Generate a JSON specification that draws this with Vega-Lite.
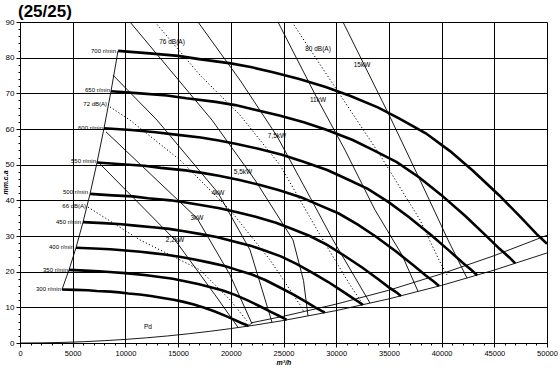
{
"$schema":"https://vega.github.io/schema/vega-lite/v6.json",
"width":527,"height":321,
"autosize":"none",
"padding":{"left":20,"top":22,"right":13,"bottom":25},
"background":"white",
"title":{"text":"(25/25)","anchor":"start","frame":"group","dx":-2,"offset":-3,"fontSize":17,"fontWeight":"bold","font":"Liberation Sans","color":"#000"},
"config":{"view":{"stroke":null},"text":{"font":"Liberation Sans"}},
"datasets":{
"lines":[
{"c":"n700","t":"s","q":9300,"p":81.9},{"c":"n700","t":"s","q":12300,"p":81.2},{"c":"n700","t":"s","q":15000,"p":80.5},{"c":"n700","t":"s","q":17000,"p":79.6},{"c":"n700","t":"s","q":20000,"p":78.4},{"c":"n700","t":"s","q":22000,"p":77.3},{"c":"n700","t":"s","q":24000,"p":75.9},{"c":"n700","t":"s","q":26500,"p":74.0},{"c":"n700","t":"s","q":29000,"p":71.8},{"c":"n700","t":"s","q":31300,"p":69.3},{"c":"n700","t":"s","q":34000,"p":66.0},{"c":"n700","t":"s","q":36000,"p":62.9},{"c":"n700","t":"s","q":38500,"p":58.8},{"c":"n700","t":"s","q":40800,"p":53.8},{"c":"n700","t":"s","q":43000,"p":48.2},{"c":"n700","t":"s","q":45500,"p":41.3},{"c":"n700","t":"s","q":47500,"p":35.3},{"c":"n700","t":"s","q":49000,"p":30.6},{"c":"n700","t":"s","q":50000,"p":27.8},
{"c":"n650","t":"s","q":8636,"p":70.6},{"c":"n650","t":"s","q":11421,"p":70.0},{"c":"n650","t":"s","q":13929,"p":69.4},{"c":"n650","t":"s","q":15786,"p":68.6},{"c":"n650","t":"s","q":18571,"p":67.6},{"c":"n650","t":"s","q":20429,"p":66.7},{"c":"n650","t":"s","q":22286,"p":65.4},{"c":"n650","t":"s","q":24607,"p":63.8},{"c":"n650","t":"s","q":26929,"p":61.9},{"c":"n650","t":"s","q":29064,"p":59.8},{"c":"n650","t":"s","q":31571,"p":56.9},{"c":"n650","t":"s","q":33429,"p":54.2},{"c":"n650","t":"s","q":35750,"p":50.7},{"c":"n650","t":"s","q":37886,"p":46.4},{"c":"n650","t":"s","q":39929,"p":41.6},{"c":"n650","t":"s","q":42250,"p":35.6},{"c":"n650","t":"s","q":44107,"p":30.4},{"c":"n650","t":"s","q":45500,"p":26.4},{"c":"n650","t":"s","q":46429,"p":24.0},{"c":"n650","t":"s","q":46986,"p":22.3},
{"c":"n600","t":"s","q":7971,"p":60.2},{"c":"n600","t":"s","q":10543,"p":59.7},{"c":"n600","t":"s","q":12857,"p":59.1},{"c":"n600","t":"s","q":14571,"p":58.5},{"c":"n600","t":"s","q":17143,"p":57.6},{"c":"n600","t":"s","q":18857,"p":56.8},{"c":"n600","t":"s","q":20571,"p":55.8},{"c":"n600","t":"s","q":22714,"p":54.4},{"c":"n600","t":"s","q":24857,"p":52.8},{"c":"n600","t":"s","q":26829,"p":50.9},{"c":"n600","t":"s","q":29143,"p":48.5},{"c":"n600","t":"s","q":30857,"p":46.2},{"c":"n600","t":"s","q":33000,"p":43.2},{"c":"n600","t":"s","q":34971,"p":39.5},{"c":"n600","t":"s","q":36857,"p":35.4},{"c":"n600","t":"s","q":39000,"p":30.3},{"c":"n600","t":"s","q":40714,"p":25.9},{"c":"n600","t":"s","q":42000,"p":22.5},{"c":"n600","t":"s","q":42857,"p":20.4},{"c":"n600","t":"s","q":43371,"p":19.0},
{"c":"n550","t":"s","q":7307,"p":50.6},{"c":"n550","t":"s","q":9664,"p":50.1},{"c":"n550","t":"s","q":11786,"p":49.7},{"c":"n550","t":"s","q":13357,"p":49.1},{"c":"n550","t":"s","q":15714,"p":48.4},{"c":"n550","t":"s","q":17286,"p":47.7},{"c":"n550","t":"s","q":18857,"p":46.9},{"c":"n550","t":"s","q":20821,"p":45.7},{"c":"n550","t":"s","q":22786,"p":44.3},{"c":"n550","t":"s","q":24593,"p":42.8},{"c":"n550","t":"s","q":26714,"p":40.8},{"c":"n550","t":"s","q":28286,"p":38.8},{"c":"n550","t":"s","q":30250,"p":36.3},{"c":"n550","t":"s","q":32057,"p":33.2},{"c":"n550","t":"s","q":33786,"p":29.8},{"c":"n550","t":"s","q":35750,"p":25.5},{"c":"n550","t":"s","q":37321,"p":21.8},{"c":"n550","t":"s","q":38500,"p":18.9},{"c":"n550","t":"s","q":39286,"p":17.2},{"c":"n550","t":"s","q":39757,"p":16.0},
{"c":"n500","t":"s","q":6643,"p":41.8},{"c":"n500","t":"s","q":8786,"p":41.4},{"c":"n500","t":"s","q":10714,"p":41.1},{"c":"n500","t":"s","q":12143,"p":40.6},{"c":"n500","t":"s","q":14286,"p":40.0},{"c":"n500","t":"s","q":15714,"p":39.4},{"c":"n500","t":"s","q":17143,"p":38.7},{"c":"n500","t":"s","q":18929,"p":37.8},{"c":"n500","t":"s","q":20714,"p":36.6},{"c":"n500","t":"s","q":22357,"p":35.4},{"c":"n500","t":"s","q":24286,"p":33.7},{"c":"n500","t":"s","q":25714,"p":32.1},{"c":"n500","t":"s","q":27500,"p":30.0},{"c":"n500","t":"s","q":29143,"p":27.5},{"c":"n500","t":"s","q":30714,"p":24.6},{"c":"n500","t":"s","q":32500,"p":21.1},{"c":"n500","t":"s","q":33929,"p":18.0},{"c":"n500","t":"s","q":35000,"p":15.6},{"c":"n500","t":"s","q":35714,"p":14.2},{"c":"n500","t":"s","q":36143,"p":13.2},
{"c":"n450","t":"s","q":5979,"p":33.9},{"c":"n450","t":"s","q":7907,"p":33.6},{"c":"n450","t":"s","q":9643,"p":33.3},{"c":"n450","t":"s","q":10929,"p":32.9},{"c":"n450","t":"s","q":12857,"p":32.4},{"c":"n450","t":"s","q":14143,"p":32.0},{"c":"n450","t":"s","q":15429,"p":31.4},{"c":"n450","t":"s","q":17036,"p":30.6},{"c":"n450","t":"s","q":18643,"p":29.7},{"c":"n450","t":"s","q":20121,"p":28.6},{"c":"n450","t":"s","q":21857,"p":27.3},{"c":"n450","t":"s","q":23143,"p":26.0},{"c":"n450","t":"s","q":24750,"p":24.3},{"c":"n450","t":"s","q":26229,"p":22.2},{"c":"n450","t":"s","q":27643,"p":19.9},{"c":"n450","t":"s","q":29250,"p":17.1},{"c":"n450","t":"s","q":30536,"p":14.6},{"c":"n450","t":"s","q":31500,"p":12.7},{"c":"n450","t":"s","q":32143,"p":11.5},{"c":"n450","t":"s","q":32529,"p":10.7},
{"c":"n400","t":"s","q":5314,"p":26.7},{"c":"n400","t":"s","q":7029,"p":26.5},{"c":"n400","t":"s","q":8571,"p":26.3},{"c":"n400","t":"s","q":9714,"p":26.0},{"c":"n400","t":"s","q":11429,"p":25.6},{"c":"n400","t":"s","q":12571,"p":25.2},{"c":"n400","t":"s","q":13714,"p":24.8},{"c":"n400","t":"s","q":15143,"p":24.2},{"c":"n400","t":"s","q":16571,"p":23.4},{"c":"n400","t":"s","q":17886,"p":22.6},{"c":"n400","t":"s","q":19429,"p":21.6},{"c":"n400","t":"s","q":20571,"p":20.5},{"c":"n400","t":"s","q":22000,"p":19.2},{"c":"n400","t":"s","q":23314,"p":17.6},{"c":"n400","t":"s","q":24571,"p":15.7},{"c":"n400","t":"s","q":26000,"p":13.5},{"c":"n400","t":"s","q":27143,"p":11.5},{"c":"n400","t":"s","q":28000,"p":10.0},{"c":"n400","t":"s","q":28571,"p":9.1},{"c":"n400","t":"s","q":28914,"p":8.5},
{"c":"n350","t":"s","q":4650,"p":20.5},{"c":"n350","t":"s","q":6150,"p":20.3},{"c":"n350","t":"s","q":7500,"p":20.1},{"c":"n350","t":"s","q":8500,"p":19.9},{"c":"n350","t":"s","q":10000,"p":19.6},{"c":"n350","t":"s","q":11000,"p":19.3},{"c":"n350","t":"s","q":12000,"p":19.0},{"c":"n350","t":"s","q":13250,"p":18.5},{"c":"n350","t":"s","q":14500,"p":18.0},{"c":"n350","t":"s","q":15650,"p":17.3},{"c":"n350","t":"s","q":17000,"p":16.5},{"c":"n350","t":"s","q":18000,"p":15.7},{"c":"n350","t":"s","q":19250,"p":14.7},{"c":"n350","t":"s","q":20400,"p":13.5},{"c":"n350","t":"s","q":21500,"p":12.1},{"c":"n350","t":"s","q":22750,"p":10.3},{"c":"n350","t":"s","q":23750,"p":8.8},{"c":"n350","t":"s","q":24500,"p":7.7},{"c":"n350","t":"s","q":25000,"p":7.0},{"c":"n350","t":"s","q":25300,"p":6.5},
{"c":"n300","t":"s","q":3986,"p":15.0},{"c":"n300","t":"s","q":5271,"p":14.9},{"c":"n300","t":"s","q":6429,"p":14.8},{"c":"n300","t":"s","q":7286,"p":14.6},{"c":"n300","t":"s","q":8571,"p":14.4},{"c":"n300","t":"s","q":9429,"p":14.2},{"c":"n300","t":"s","q":10286,"p":13.9},{"c":"n300","t":"s","q":11357,"p":13.6},{"c":"n300","t":"s","q":12429,"p":13.2},{"c":"n300","t":"s","q":13414,"p":12.7},{"c":"n300","t":"s","q":14571,"p":12.1},{"c":"n300","t":"s","q":15429,"p":11.6},{"c":"n300","t":"s","q":16500,"p":10.8},{"c":"n300","t":"s","q":17486,"p":9.9},{"c":"n300","t":"s","q":18429,"p":8.9},{"c":"n300","t":"s","q":19500,"p":7.6},{"c":"n300","t":"s","q":20357,"p":6.5},{"c":"n300","t":"s","q":21000,"p":5.6},{"c":"n300","t":"s","q":21429,"p":5.1},{"c":"n300","t":"s","q":21686,"p":4.8},
{"c":"bound","t":"t","q":3986,"p":15.0},{"c":"bound","t":"t","q":4650,"p":20.5},{"c":"bound","t":"t","q":5314,"p":26.7},{"c":"bound","t":"t","q":5979,"p":33.9},{"c":"bound","t":"t","q":6643,"p":41.8},{"c":"bound","t":"t","q":7307,"p":50.6},{"c":"bound","t":"t","q":7971,"p":60.2},{"c":"bound","t":"t","q":8636,"p":70.6},{"c":"bound","t":"t","q":9300,"p":81.9},
{"c":"pd","t":"t","q":0,"p":0},{"c":"pd","t":"t","q":2000,"p":0.04},{"c":"pd","t":"t","q":4000,"p":0.16},{"c":"pd","t":"t","q":6000,"p":0.36},{"c":"pd","t":"t","q":8000,"p":0.65},{"c":"pd","t":"t","q":10000,"p":1.01},{"c":"pd","t":"t","q":12000,"p":1.45},{"c":"pd","t":"t","q":14000,"p":1.98},{"c":"pd","t":"t","q":16000,"p":2.59},{"c":"pd","t":"t","q":18000,"p":3.27},{"c":"pd","t":"t","q":20000,"p":4.04},{"c":"pd","t":"t","q":22000,"p":4.89},{"c":"pd","t":"t","q":25000,"p":6.31},{"c":"pd","t":"t","q":30000,"p":9.09},{"c":"pd","t":"t","q":35000,"p":12.37},{"c":"pd","t":"t","q":40000,"p":16.16},{"c":"pd","t":"t","q":45000,"p":20.45},{"c":"pd","t":"t","q":50000,"p":25.25},
{"c":"up","t":"t","q":21686,"p":4.8},{"c":"up","t":"t","q":22012,"p":5.7},{"c":"up","t":"t","q":25000,"p":7.5},{"c":"up","t":"t","q":30000,"p":10.9},{"c":"up","t":"t","q":35000,"p":14.8},{"c":"up","t":"t","q":40000,"p":19.4},{"c":"up","t":"t","q":45000,"p":24.5},{"c":"up","t":"t","q":50000,"p":30.2},
{"c":"kw15","t":"t","q":30645,"p":90},{"c":"kw15","t":"t","q":35104,"p":63.4},{"c":"kw15","t":"t","q":37951,"p":45.7},{"c":"kw15","t":"t","q":40608,"p":28.9},{"c":"kw15","t":"t","q":42410,"p":18.2},
{"c":"kw11","t":"t","q":24478,"p":90},{"c":"kw11","t":"t","q":28273,"p":68.1},{"c":"kw11","t":"t","q":30835,"p":54.1},{"c":"kw11","t":"t","q":33681,"p":37.3},{"c":"kw11","t":"t","q":36243,"p":24.7},{"c":"kw11","t":"t","q":37761,"p":14.5},
{"c":"kw7","t":"t","q":16888,"p":90},{"c":"kw7","t":"t","q":20873,"p":73.7},{"c":"kw7","t":"t","q":24383,"p":58.0},{"c":"kw7","t":"t","q":27514,"p":40.9},{"c":"kw7","t":"t","q":29696,"p":28.9},{"c":"kw7","t":"t","q":33207,"p":11.2},
{"c":"kw5","t":"t","q":10436,"p":90},{"c":"kw5","t":"t","q":18216,"p":62.5},{"c":"kw5","t":"t","q":22296,"p":45.7},{"c":"kw5","t":"t","q":25901,"p":28.9},{"c":"kw5","t":"t","q":26900,"p":17.5},{"c":"kw5","t":"t","q":27324,"p":7.6},
{"c":"kw4","t":"t","q":8824,"p":75.1},{"c":"kw4","t":"t","q":12998,"p":62.5},{"c":"kw4","t":"t","q":18786,"p":42.1},{"c":"kw4","t":"t","q":21822,"p":26.1},{"c":"kw4","t":"t","q":23909,"p":5.8},
{"c":"kw3","t":"t","q":8159,"p":59.2},{"c":"kw3","t":"t","q":16793,"p":35.0},{"c":"kw3","t":"t","q":19924,"p":19.1},{"c":"kw3","t":"t","q":22012,"p":5.4},
{"c":"kw2","t":"t","q":7495,"p":50.5},{"c":"kw2","t":"t","q":14706,"p":28.9},{"c":"kw2","t":"t","q":18501,"p":13.5},{"c":"kw2","t":"t","q":20683,"p":4.4},
{"c":"db80","t":"d","q":25807,"p":90},{"c":"db80","t":"d","q":30076,"p":70.9},{"c":"db80","t":"d","q":34156,"p":52.7},{"c":"db80","t":"d","q":37951,"p":34.5},{"c":"db80","t":"d","q":39848,"p":22.7},{"c":"db80","t":"d","q":40512,"p":19.1},
{"c":"db76","t":"d","q":12808,"p":90},{"c":"db76","t":"d","q":17078,"p":75.1},{"c":"db76","t":"d","q":20873,"p":63.9},{"c":"db76","t":"d","q":24668,"p":49.9},{"c":"db76","t":"d","q":28463,"p":30.3},{"c":"db76","t":"d","q":31309,"p":16.3},{"c":"db76","t":"d","q":32448,"p":11.2},
{"c":"db72","t":"d","q":8539,"p":66.2},{"c":"db72","t":"d","q":10436,"p":62.5},{"c":"db72","t":"d","q":15180,"p":51.3},{"c":"db72","t":"d","q":19924,"p":37.3},{"c":"db72","t":"d","q":23719,"p":23.3},{"c":"db72","t":"d","q":26566,"p":10.7},{"c":"db72","t":"d","q":26945,"p":8.7},
{"c":"db66","t":"d","q":6452,"p":38.1},{"c":"db66","t":"d","q":11385,"p":28.9},{"c":"db66","t":"d","q":17078,"p":20.5},{"c":"db66","t":"d","q":19924,"p":12.1},{"c":"db66","t":"d","q":21537,"p":6.2}
],
"labels":[
{"g":"left","q":9108,"p":81.9,"txt":"700 r/min"},
{"g":"left","q":8539,"p":70.9,"txt":"650 r/min"},
{"g":"left","q":7875,"p":60.3,"txt":"600 r/min"},
{"g":"left","q":7211,"p":51.0,"txt":"550 r/min"},
{"g":"left","q":6452,"p":42.3,"txt":"500 r/min"},
{"g":"left","q":5788,"p":33.9,"txt":"450 r/min"},
{"g":"left","q":5123,"p":26.9,"txt":"400 r/min"},
{"g":"left","q":4554,"p":20.5,"txt":"350 r/min"},
{"g":"left","q":3890,"p":15.1,"txt":"300 r/min"},
{"g":"left","q":8254,"p":67.0,"txt":"72 dB(A)"},
{"g":"left","q":6262,"p":38.4,"txt":"66 dB(A)"},
{"g":"mid","q":14421,"p":84.4,"txt":"76 dB(A)"},
{"g":"mid","q":28273,"p":82.4,"txt":"80 dB(A)"},
{"g":"mid","q":32448,"p":77.9,"txt":"15kW"},
{"g":"mid","q":28273,"p":68.1,"txt":"11kW"},
{"g":"mid","q":24383,"p":58.0,"txt":"7,5kW"},
{"g":"mid","q":21157,"p":47.9,"txt":"5,5kW"},
{"g":"mid","q":18786,"p":42.1,"txt":"4kW"},
{"g":"mid","q":16793,"p":35.0,"txt":"3kW"},
{"g":"mid","q":14706,"p":28.9,"txt":"2,2kW"},
{"g":"mid","q":12144,"p":4.5,"txt":"Pd"}
]},
"layer":[
{
"encoding":{
  "x":{"field":"q","type":"quantitative","scale":{"domain":[0,50000],"nice":false,"zero":false},
   "axis":{"orient":"bottom","values":[0,5000,10000,15000,20000,25000,30000,35000,40000,45000,50000],"format":"d","title":"m³/h","titleFontSize":7,"titleFontStyle":"italic","titleFontWeight":"bold","titleFont":"Liberation Sans","titlePadding":2,"labelFont":"Liberation Sans","labelFontSize":7.5,"labelColor":"#000","labelPadding":2,"tickSize":4,"tickColor":"#000","domainColor":"#000","grid":true,"gridColor":"#000","gridOpacity":1,"labelFlush":false}},
  "y":{"field":"p","type":"quantitative","scale":{"domain":[0,90],"nice":false,"zero":false},
   "axis":{"orient":"left","values":[0,10,20,30,40,50,60,70,80,90],"title":"mm.c.a","titleX":-15,"titleY":160,"titleAngle":-90,"titleAlign":"center","titleBaseline":"middle","titleFontSize":7,"titleFontStyle":"italic","titleFontWeight":"bold","titleFont":"Liberation Sans","labelFont":"Liberation Sans","labelFontSize":8,"labelColor":"#000","labelPadding":2,"tickSize":4,"tickColor":"#000","domainColor":"#000","grid":true,"gridColor":"#000","gridOpacity":1}}
},
"layer":[
{"data":{"name":"lines"},"transform":[{"filter":"datum.t==='t'"}],
 "mark":{"type":"line","color":"#000","strokeWidth":0.9,"clip":true},
 "encoding":{"detail":{"field":"c"},"order":{"field":"q"}}},
{"data":{"name":"lines"},"transform":[{"filter":"datum.t==='s'"}],
 "mark":{"type":"line","color":"#000","strokeWidth":2.6,"clip":true},
 "encoding":{"detail":{"field":"c"},"order":{"field":"q"}}},
{"data":{"name":"lines"},"transform":[{"filter":"datum.t==='d'"}],
 "mark":{"type":"line","color":"#000","strokeWidth":1,"strokeDash":[1.2,2.2],"clip":true},
 "encoding":{"detail":{"field":"c"},"order":{"field":"q"}}},
{"data":{"name":"labels"},"transform":[{"filter":"datum.g==='left'"}],
 "mark":{"type":"text","align":"right","baseline":"middle","fontSize":6,"color":"#000"},
 "encoding":{"text":{"field":"txt"}}},
{"data":{"name":"labels"},"transform":[{"filter":"datum.g==='mid'"}],
 "mark":{"type":"text","align":"center","baseline":"middle","fontSize":6.5,"color":"#000"},
 "encoding":{"text":{"field":"txt"}}}
]},
{"data":{"name":"labels"},
 "mark":{"type":"point","opacity":0},
 "encoding":{
  "x":{"field":"q","type":"quantitative","axis":{"orient":"bottom","values":[0,1000,2000,3000,4000,5000,6000,7000,8000,9000,10000,11000,12000,13000,14000,15000,16000,17000,18000,19000,20000,21000,22000,23000,24000,25000,26000,27000,28000,29000,30000,31000,32000,33000,34000,35000,36000,37000,38000,39000,40000,41000,42000,43000,44000,45000,46000,47000,48000,49000,50000],"labels":false,"grid":false,"domain":false,"title":null,"tickSize":2,"tickColor":"#000"}},
  "y":{"field":"p","type":"quantitative","axis":{"orient":"left","values":[0,2,4,6,8,10,12,14,16,18,20,22,24,26,28,30,32,34,36,38,40,42,44,46,48,50,52,54,56,58,60,62,64,66,68,70,72,74,76,78,80,82,84,86,88,90],"labels":false,"grid":false,"domain":false,"title":null,"tickSize":2,"tickColor":"#000"}}
 }}
],
"resolve":{"axis":{"x":"independent","y":"independent"}}
}
